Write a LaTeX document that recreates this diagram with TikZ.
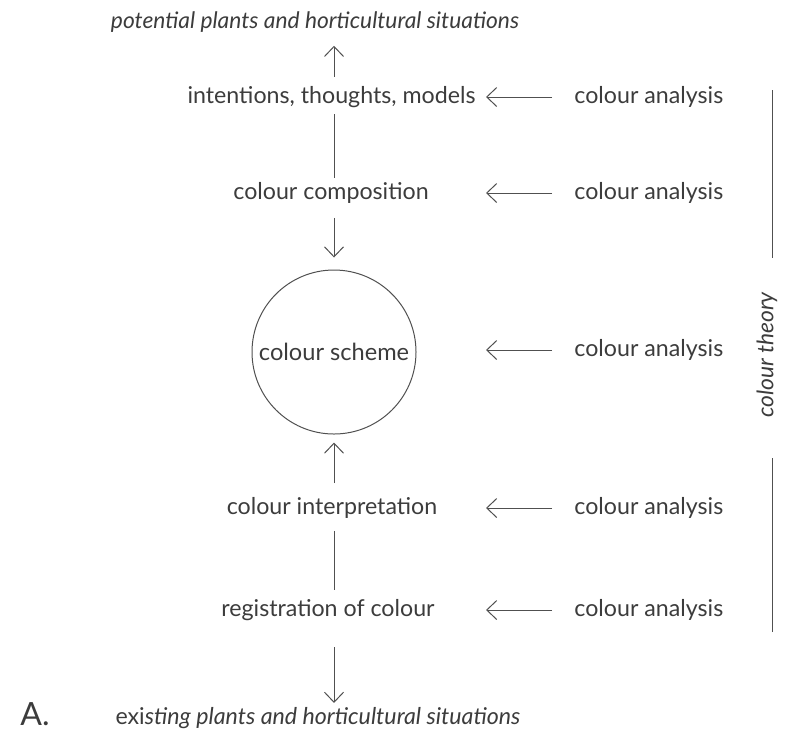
\documentclass[tikz,border=0pt]{standalone}
\usepackage{fontspec}
\setmainfont{Lato}
\usepackage{xcolor}
\usetikzlibrary{arrows.meta, positioning}
\definecolor{inkgray}{RGB}{60, 60, 60}
\definecolor{linegray}{RGB}{80, 80, 80}

\begin{document}
\begin{tikzpicture}[
    x=0.5pt, y=-0.5pt,
    label/.style={text=inkgray, font=\fontsize{11.6}{13}\selectfont, inner sep=1pt},
    outer/.style={label, font=\fontsize{11.4}{13}\selectfont\itshape},
    scheme/.style={draw=linegray, line width=0.5pt, circle, minimum size=82pt, inner sep=0pt, text=inkgray, font=\fontsize{11.8}{13}\selectfont},
    link/.style={draw=linegray, line width=0.5pt},
    arrow/.style={link, -{Straight Barb[length=5pt, width=9.5pt, line width=0.5pt]}}
]
    \useasboundingbox (0, 0) rectangle (786, 746);

    % Main chain
    \node[outer] (pot) at (315, 22) {potential plants and horticultural situations};
    \node[label, anchor=east] (intent) at (478, 97) {intentions, thoughts, models};
    \node[label] (comp) at (331, 193) {colour composition};
    \node[scheme] (scheme) at (334, 352) {colour scheme};
    \node[label] (interp) at (332, 508) {colour interpretation};
    \node[label] (reg) at (328, 610) {registration of colour};
    \node[label] (exist) at (318, 718) {exi\textit{sting plants and horticultural situations}};
    \node[label, font=\fontsize{16}{18}\selectfont, anchor=south west] (tag) at (18, 728) {A.};

    % Colour analysis inputs
    \node[label, anchor=west] (ana1) at (572, 97) {colour analysis};
    \node[label, anchor=west] (ana2) at (572, 193) {colour analysis};
    \node[label, anchor=west] (ana3) at (572, 350) {colour analysis};
    \node[label, anchor=west] (ana4) at (572, 508) {colour analysis};
    \node[label, anchor=west] (ana5) at (572, 610) {colour analysis};
    \coordinate (tipcol) at (486, 0);

    % Colour theory bracket
    \node[outer, rotate=90] (theory) at (767, 355) {colour theory};
    \coordinate (thtop) at (772, 90);
    \coordinate (thbot) at (772, 632);

    % Vertical connectors
    \draw[arrow] ([yshift=3.5pt]intent.north -| scheme) -- ([yshift=-5.5pt]pot.south -| scheme);
    \draw[link] ([yshift=-2pt]intent.south -| scheme) -- ([yshift=1pt]comp.north -| scheme);
    \draw[arrow] ([yshift=-6pt]comp.south -| scheme) -- ([yshift=6pt]scheme.north);
    \draw[arrow] ([yshift=6pt]interp.north -| scheme) -- ([yshift=-4pt]scheme.south);
    \draw[link] ([yshift=-5pt]interp.south -| scheme) -- ([yshift=3.5pt]reg.north -| scheme);
    \draw[arrow] ([yshift=-12pt]reg.south -| scheme) -- ([yshift=1pt]exist.north -| scheme);

    % Analysis arrows
    \foreach \i in {1,...,5}
        \draw[arrow, shorten <=10pt] (ana\i.west) -- (ana\i.west -| tipcol);

    % Theory lines
    \draw[link, shorten >=16pt] (thtop) -- (theory.east -| thtop);
    \draw[link, shorten >=19pt] (thbot) -- (theory.west -| thbot);
\end{tikzpicture}
\end{document}
